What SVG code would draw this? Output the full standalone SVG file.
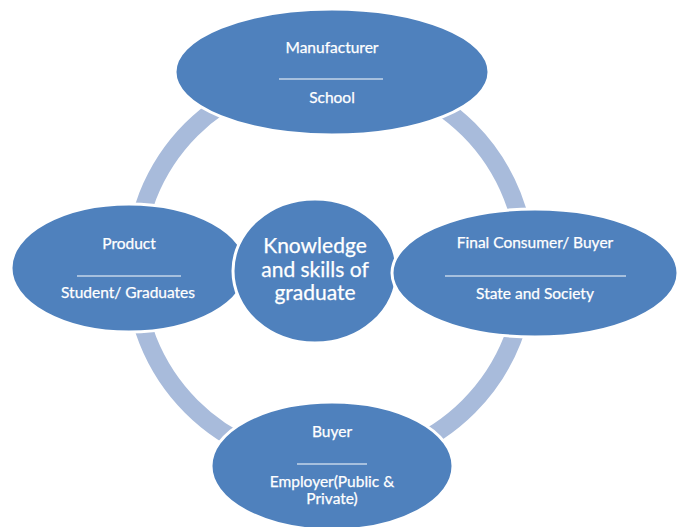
<svg xmlns="http://www.w3.org/2000/svg" width="681" height="527" viewBox="0 0 681 527">
<style>
.node{fill:#4F81BD;stroke:#FFFFFF;stroke-width:3}
.t{fill:#FFFFFF;font-family:Lato,"Open Sans","Liberation Sans",sans-serif;font-size:15.5px;text-anchor:middle;stroke:#FFFFFF;stroke-width:0.25}
.big{font-size:21px}
.sep{stroke:#FFFFFF;stroke-width:1}
.ring{fill:none;stroke:#A8BBDB;stroke-width:18}
</style>
<rect width="681" height="527" fill="#FFFFFF"/>
<g id="connectors">
<circle class="ring" cx="330" cy="268" r="196"/>
</g>
<g id="top">
<ellipse class="node" cx="332" cy="72" rx="157" ry="63"/>
<text class="t" x="332" y="53">Manufacturer</text>
<line class="sep" x1="279" y1="79" x2="383" y2="79"/>
<text class="t" x="332" y="103">School</text>
</g>
<g id="left">
<ellipse class="node" cx="129" cy="268" rx="118" ry="64"/>
<text class="t" x="129" y="249">Product</text>
<line class="sep" x1="77" y1="276" x2="181" y2="276"/>
<text class="t" x="128" y="298">Student/ Graduates</text>
</g>
<g id="center">
<ellipse class="node" cx="315" cy="271" rx="82" ry="72"/>
<text class="t big" x="315" y="253">Knowledge</text>
<text class="t big" x="315" y="277">and skills  of</text>
<text class="t big" x="315" y="300">graduate</text>
</g>
<g id="right">
<ellipse class="node" cx="535" cy="273" rx="143" ry="64"/>
<text class="t" x="535" y="248">Final Consumer/ Buyer</text>
<line class="sep" x1="445" y1="276" x2="626" y2="276"/>
<text class="t" x="535" y="299">State and Society</text>
</g>
<g id="bottom">
<ellipse class="node" cx="332" cy="466" rx="121" ry="64"/>
<text class="t" x="332" y="437">Buyer</text>
<line class="sep" x1="297" y1="464" x2="367" y2="464"/>
<text class="t" x="332" y="487">Employer(Public &amp;</text>
<text class="t" x="332" y="504">Private)</text>
</g>
</svg>
